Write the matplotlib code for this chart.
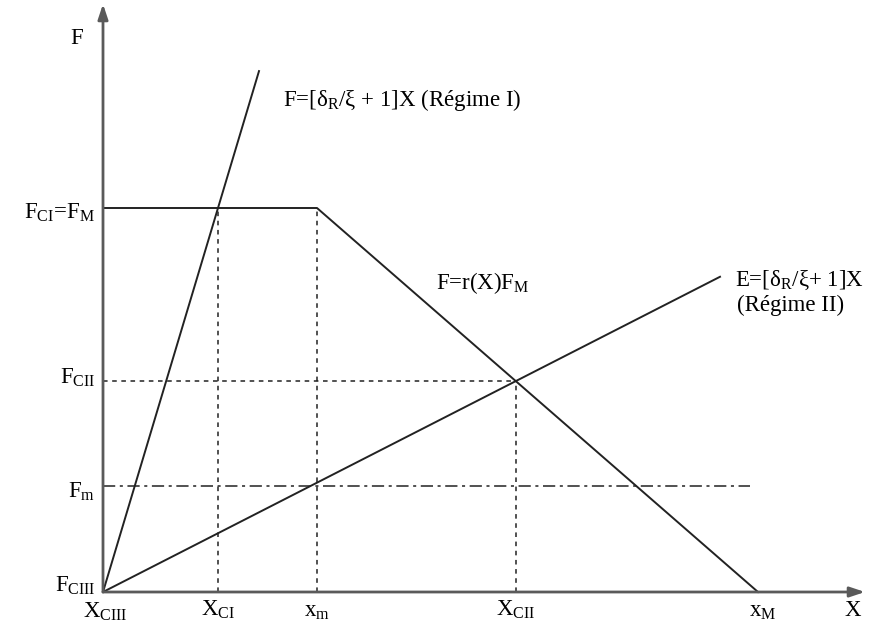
import matplotlib.pyplot as plt

plt.rcParams['font.family'] = ['Liberation Serif', 'DejaVu Serif']
plt.rcParams['mathtext.fontset'] = 'custom'
plt.rcParams['mathtext.rm'] = 'Liberation Serif'
plt.rcParams['mathtext.it'] = 'Liberation Serif:italic'

# characteristic abscissae (X) and ordinates (F), arbitrary units
x_ci, x_m, x_cii, x_M = 115, 214, 413, 655
F_M, F_cii, F_m = 384, 211, 106
x_end_I, x_end_II = 156, 617   # where the two regime lines stop
x_fm_end = 647                # end of the F_m dash-dot line
slope_I = F_M / x_ci
slope_II = F_cii / x_cii

fig = plt.figure(figsize=(8.86, 6.32), dpi=100)
ax = fig.add_axes([0, 0, 1, 1])
ax.set_xlim(-103, 783)
ax.set_ylim(-40, 592)
ax.axis('off')

axis_col = '#5a5a5a'
ax.annotate('', xy=(762, 0), xytext=(0, 0),
            arrowprops=dict(arrowstyle='-|>,head_length=0.9,head_width=0.3', color=axis_col, lw=2, shrinkA=0, shrinkB=0))
ax.annotate('', xy=(0, 588), xytext=(0, 0),
            arrowprops=dict(arrowstyle='-|>,head_length=0.9,head_width=0.3', color=axis_col, lw=2, shrinkA=0, shrinkB=0))

lw = 1.4
# regime I line
ax.plot([0, x_end_I], [0, slope_I * x_end_I], color='#222222', lw=lw)
# regime II line
ax.plot([0, x_end_II], [0, slope_II * x_end_II], color='#222222', lw=lw)
# plateau then linear decrease F = r(X) F_M
ax.plot([0, x_m, x_M], [F_M, F_M, 0], color='#222222', lw=lw)

# guide lines
dot = dict(color='#222222', lw=1.1, ls=(0, (3, 3)))
ax.plot([x_ci, x_ci], [0, F_M], **dot)
ax.plot([x_m, x_m], [0, F_M], **dot)
ax.plot([x_cii, x_cii], [0, F_cii], **dot)
ax.plot([0, x_cii], [F_cii, F_cii], **dot)
ax.plot([0, x_fm_end], [F_m, F_m], color='#222222', lw=1.1, ls=(0, (8, 3, 2, 3)))

fs = 16.5
ax.text(-26, 554, 'F', fontsize=fs, ha='center', va='center')
ax.text(-8, 379, r'F$_{\rm CI}$=F$_{\rm M}$', fontsize=fs, ha='right', va='center')
ax.text(-8, 214, r'F$_{\rm CII}$', fontsize=fs, ha='right', va='center')
ax.text(-8, 100, r'F$_{\rm m}$', fontsize=fs, ha='right', va='center')
ax.text(-8, 6, r'F$_{\rm CIII}$', fontsize=fs, ha='right', va='center')

ax.text(2, -20, r'X$_{\rm CIII}$', fontsize=fs, ha='center', va='center')
ax.text(x_ci, -18, r'X$_{\rm CI}$', fontsize=fs, ha='center', va='center')
ax.text(x_m, -20, r'x$_{\rm m}$', fontsize=fs, ha='center', va='center')
ax.text(x_cii, -18, r'X$_{\rm CII}$', fontsize=fs, ha='center', va='center')
ax.text(x_M + 5, -20, r'x$_{\rm M}$', fontsize=fs, ha='center', va='center')
ax.text(750, -18, 'X', fontsize=fs, ha='center', va='center')

ax.text(180, 492, r'F=[δ$_{\rm R}$/ξ + 1]X (Régime I)', fontsize=fs, ha='left', va='center')
ax.text(333, 309, r'F=r(X)F$_{\rm M}$', fontsize=fs, ha='left', va='center')
ax.text(632, 312, r'E=[δ$_{\rm R}$/ξ+ 1]X', fontsize=fs, ha='left', va='center')
ax.text(634, 287, '(Régime II)', fontsize=fs, ha='left', va='center')

fig.savefig('out.png', dpi=100, facecolor='white')
